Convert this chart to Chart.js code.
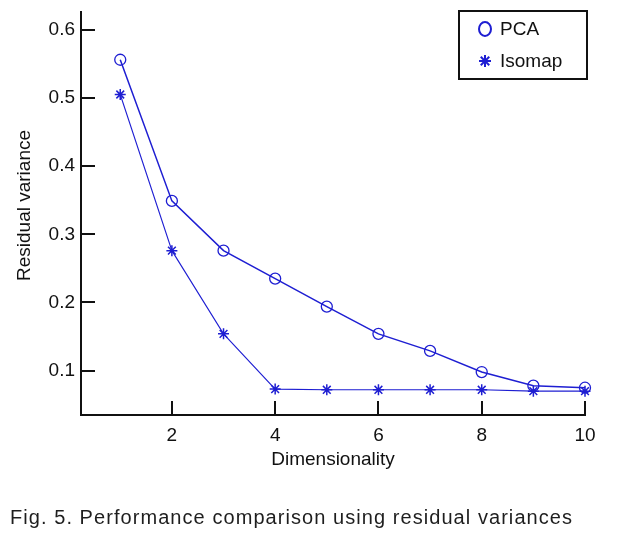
<!DOCTYPE html>
<html><head><meta charset="utf-8">
<script src="https://cdn.jsdelivr.net/npm/chart.js@4/dist/chart.umd.min.js"></script>
<style>
html,body{margin:0;padding:0;background:#fff;}
#wrap{position:relative;width:618px;height:535px;}
#cap{position:absolute;left:10px;top:503px;font-family:"Liberation Sans",Arial,sans-serif;font-size:20px;line-height:28px;color:#1e1e1e;white-space:nowrap;}
</style></head>
<body><div id="wrap"><canvas id="c" width="618" height="535"></canvas><div id="cap">Fig. 5. Performance comparison using residual variances</div></div>
<script>
const dims = [1,2,3,4,5,6,7,8,9,10];
const pcaValues = [0.556,0.349,0.276,0.235,0.194,0.154,0.129,0.098,0.078,0.075];
const isomapValues = [0.505,0.276,0.154,0.073,0.072,0.072,0.072,0.072,0.070,0.070];
const xTicks = [2,4,6,8,10];
const yTicks = [0.1,0.2,0.3,0.4,0.5,0.6];
const seriesLabels = ['PCA','Isomap'];
const xTitle = 'Dimensionality';
const yTitle = 'Residual variance';
const blue = 'rgb(30,30,210)';
const FONT = '"Liberation Sans", Arial, sans-serif';

// stretch caption to the reference width
(function(){
  const cap=document.getElementById('cap');
  const w=cap.getBoundingClientRect().width;
  const n=cap.textContent.length;
  cap.style.letterSpacing=((562-w)/(n-1))+'px';
})();

const innerTicks = {
  id:'innerTicks',
  afterDraw(chart){
    const ctx=chart.ctx, a=chart.chartArea, xs=chart.scales.x, ys=chart.scales.y;
    ctx.save(); ctx.strokeStyle='#111'; ctx.lineWidth=2;
    xTicks.forEach(v=>{const p=Math.round(xs.getPixelForValue(v));ctx.beginPath();ctx.moveTo(p,a.bottom);ctx.lineTo(p,a.bottom-14);ctx.stroke();});
    yTicks.forEach(v=>{const p=Math.round(ys.getPixelForValue(v));ctx.beginPath();ctx.moveTo(a.left,p);ctx.lineTo(a.left+14,p);ctx.stroke();});
    // y title
    ctx.save(); ctx.translate(25,(a.top+a.bottom)/2-8); ctx.rotate(-Math.PI/2);
    ctx.font='19px '+FONT; ctx.fillStyle='#111'; ctx.textAlign='center'; ctx.textBaseline='middle';
    ctx.fillText(yTitle,0,0); ctx.restore();
    // legend box
    const bx=a.right-126, by=a.top-1, bw=128, bh=68;
    ctx.fillStyle='#fff'; ctx.fillRect(bx,by,bw,bh);
    ctx.lineWidth=2; ctx.strokeStyle='#111'; ctx.strokeRect(bx,by,bw,bh);
    ctx.font='19px '+FONT; ctx.fillStyle='#111'; ctx.textBaseline='middle';
    const ys2=[by+18, by+50];
    chart.data.datasets.forEach((ds,i)=>{
      const mx=bx+26, my=ys2[i];
      ctx.strokeStyle=blue; ctx.lineWidth=2;
      if(ds.pointStyle==='circle'){ctx.beginPath();ctx.ellipse(mx,my,6,7,0,0,Math.PI*2);ctx.stroke();}
      else {
        for(let k=0;k<4;k++){const ang=k*Math.PI/4;ctx.beginPath();ctx.moveTo(mx-6*Math.cos(ang),my-6*Math.sin(ang));ctx.lineTo(mx+6*Math.cos(ang),my+6*Math.sin(ang));ctx.stroke();}
      }
      ctx.fillStyle='#111'; ctx.fillText(ds.label,bx+41,my+1);
    });
    ctx.restore();
  }
};

new Chart(document.getElementById('c'),{
  type:'line',
  data:{datasets:[
    {label:seriesLabels[0],data:dims.map((d,i)=>({x:d,y:pcaValues[i]})),borderColor:blue,borderWidth:1.5,pointStyle:'circle',pointRadius:5.5,pointBorderColor:blue,pointBackgroundColor:'rgba(0,0,0,0)',pointBorderWidth:1.3,tension:0,clip:false},
    {label:seriesLabels[1],data:dims.map((d,i)=>({x:d,y:isomapValues[i]})),borderColor:blue,borderWidth:1.1,pointStyle:'star',pointRadius:5.5,pointBorderColor:blue,pointBackgroundColor:blue,pointBorderWidth:1.5,tension:0,clip:false}
  ]},
  options:{
    responsive:false,animation:false,
    layout:{padding:{left:0,right:33,top:12,bottom:60}},
    plugins:{legend:{display:false},tooltip:{enabled:false}},
    scales:{
      x:{type:'linear',min:0.24,max:10,
        afterBuildTicks(s){s.ticks=xTicks.map(v=>({value:v}));},
        afterFit(s){s.height=60;s.paddingLeft=0;s.paddingRight=0;},
        grid:{display:false,drawTicks:false},
        border:{display:true,color:'#111',width:2},
        ticks:{padding:9,color:'#111',font:{size:19,family:FONT},maxRotation:0},
        title:{display:true,text:xTitle,color:'#111',font:{size:19,family:FONT},padding:{top:0,bottom:4}}
      },
      y:{type:'linear',min:0.035,max:0.626,
        afterBuildTicks(s){s.ticks=yTicks.map(v=>({value:v}));},
        afterFit(s){s.width=81;s.paddingTop=0;s.paddingBottom=0;},
        grid:{display:false,drawTicks:false},
        border:{display:true,color:'#111',width:2},
        ticks:{padding:6,color:'#111',font:{size:19,family:FONT},callback:v=>v.toFixed(1)},
        title:{display:false}
      }
    }
  },
  plugins:[innerTicks]
});
</script></body></html>
